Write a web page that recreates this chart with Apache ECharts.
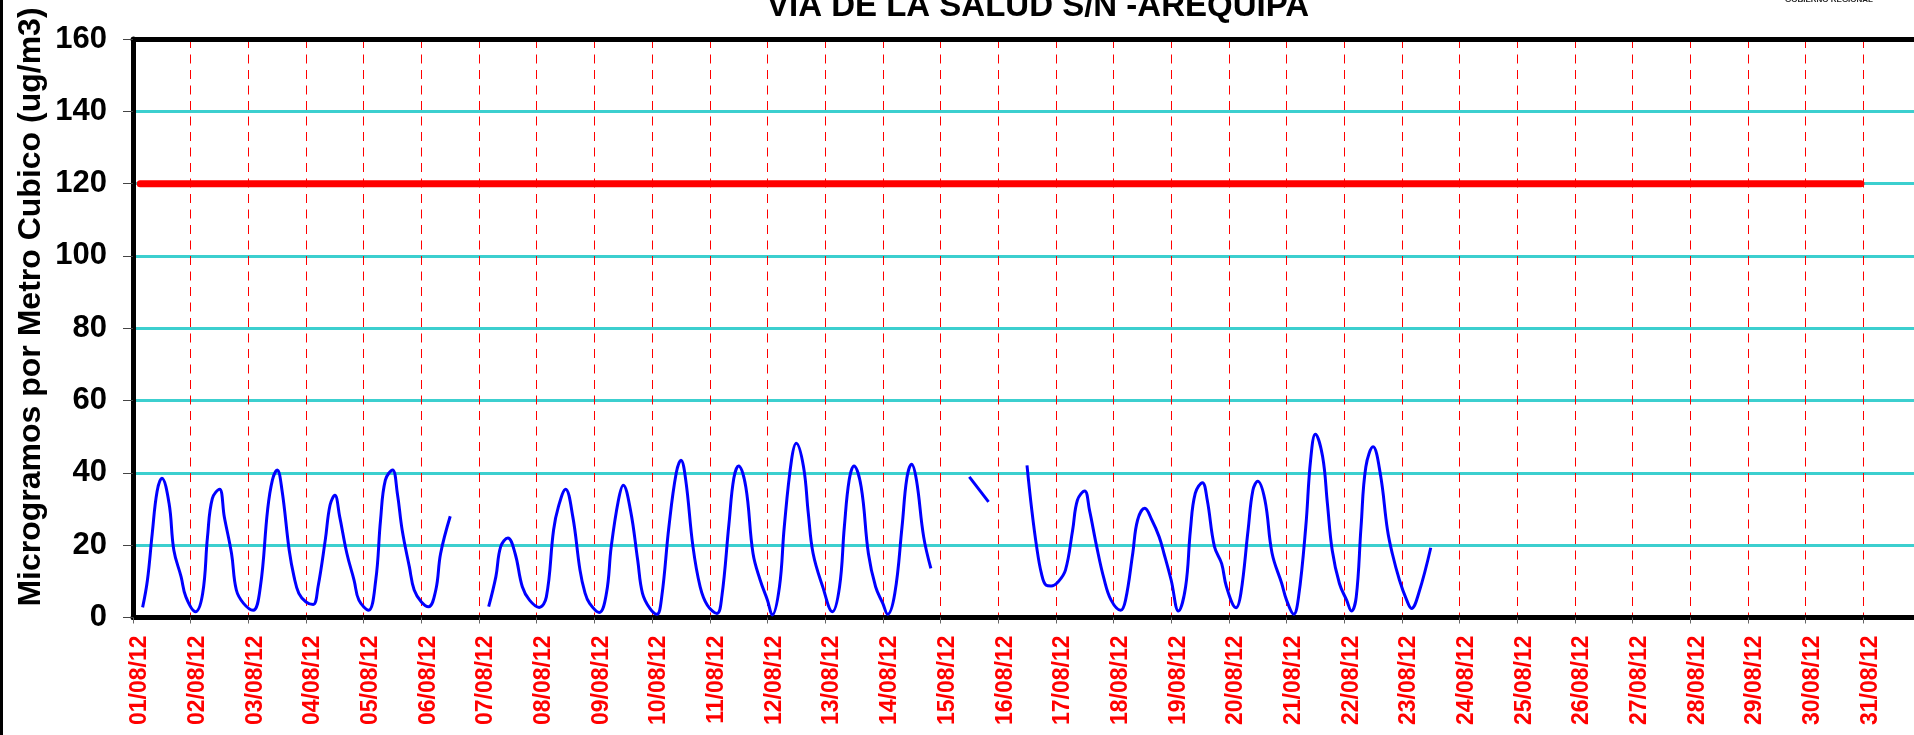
<!DOCTYPE html>
<html>
<head>
    <meta charset="UTF-8">
    <title>PM10 - Via de la Salud S/N - Arequipa</title>
    <style>
        html, body {
            margin: 0;
            padding: 0;
            width: 100%;
            height: 100%;
            overflow: hidden;
            background: #ffffff;
        }
        /* un poco mas ancho que la ventana: el grafico continua fuera del borde derecho */
        #main {
            width: 1930px;
            height: 735px;
        }
    </style>
    <script src="https://cdn.jsdelivr.net/npm/echarts@6/dist/echarts.min.js"></script>
</head>
<body>
    <div id="main"></div>

    <script>
        // etiquetas del eje x (una por dia)
        const dias = [
            '01/08/12', '02/08/12', '03/08/12', '04/08/12', '05/08/12', '06/08/12', '07/08/12', '08/08/12',
            '09/08/12', '10/08/12', '11/08/12', '12/08/12', '13/08/12', '14/08/12', '15/08/12', '16/08/12',
            '17/08/12', '18/08/12', '19/08/12', '20/08/12', '21/08/12', '22/08/12', '23/08/12', '24/08/12',
            '25/08/12', '26/08/12', '27/08/12', '28/08/12', '29/08/12', '30/08/12', '31/08/12'
        ];

        // horas desde 01/08/12 00:00 (null = sin datos)
        const horas = [
            4, 6, 8, 10, 12, 15, 17, 20, 22, 26, 29, 31, 33, 36, 38, 41, 43, 46, 50, 53, 56, 58, 60, 62,
            65, 67, 69, 72, 75, 77, 80, 82, 84, 86, 89, 92, 94, 98, 101, 103, 105, 108, 110, 112, 115, 117,
            120, 123, 126, 128, 132,
            140,
            148, 151, 153, 156, 159, 162, 165, 169, 172, 175, 177, 180, 183, 186, 188, 190, 194, 197, 199,
            202, 204, 207, 210, 212, 215, 218, 220, 223, 226, 228, 230, 233, 236, 239, 243, 245, 248, 250,
            252, 255, 258, 261, 264, 266, 269, 271, 274, 276, 279, 281, 283, 287, 291, 294, 296, 298, 300,
            303, 306, 309, 312, 314, 317, 320, 322, 324, 326, 329, 332,
            340,
            348, 356,
            364,
            372, 374, 376, 378, 380, 382, 385, 388, 391, 393, 396, 398, 401, 404, 407, 411, 413, 416, 418,
            421, 424, 427, 429, 432, 435, 438, 440, 442, 445, 447, 450, 453, 455, 459, 461, 464, 466, 468,
            471, 474, 478, 480, 483, 485, 488, 490, 492, 495, 497, 499, 502, 505, 507, 509, 511, 513, 516,
            519, 522, 524, 527, 530, 532, 535, 540
        ];

        // PM10 en ug/m3
        const valores = [
            2.8, 10.3, 23.2, 34.8, 38.5, 31.6, 18.6, 11.3, 5.7, 1.6, 6.7, 22.3, 32.9, 35.5, 27.8, 17.7, 7.6, 3.9, 2.0, 8.5, 29.7, 38.0, 40.8, 35.2,
            18.6, 11.3, 6.7, 4.3, 3.6, 8.5, 21.4, 31.1, 33.8, 27.9, 17.7, 10.3, 4.8, 2.0, 10.3, 26.9, 38.0, 40.8, 34.3, 24.2, 14.0, 7.6,
            4.3, 3.0, 7.6, 17.7, 28.0,
            null,
            3.0, 11.3, 19.6, 22.0, 17.7, 8.5, 4.8, 2.8, 5.7, 24.2, 30.6, 35.5, 27.9, 13.1, 7.0, 3.9, 1.4, 6.7, 19.6,
            32.5, 36.6, 29.7, 15.9, 6.7, 2.6, 0.9, 5.7, 25.1, 39.8, 43.5, 38.0, 19.6, 8.5, 3.4, 1.1, 5.7, 26.0, 38.5,
            41.9, 36.1, 17.7, 10.3, 4.8, 0.7, 8.5, 25.1, 43.5, 48.2, 41.7, 28.8, 17.7, 8.5, 1.6, 8.5, 25.1, 38.0, 41.9,
            36.1, 17.7, 8.5, 3.9, 0.9, 6.7, 25.1, 38.5, 42.4, 38.0, 22.3, 13.6,
            null,
            38.9, 32.0,
            null,
            42.1, 29.7, 19.6, 12.2, 8.9, 8.7, 9.9, 13.1, 24.2, 32.5, 35.0, 29.7, 19.6, 10.8, 4.8, 2.0, 4.8, 17.7, 26.9,
            30.2, 26.9, 22.3, 17.7, 10.3, 1.8, 8.5, 24.2, 34.3, 37.3, 32.5, 19.6, 14.9, 8.5, 2.7, 6.7, 24.2, 35.2, 37.7,
            32.5, 17.7, 9.4, 4.8, 0.9, 5.7, 25.1, 43.5, 50.7, 44.5, 31.5, 18.6, 9.4, 4.8, 1.8, 5.7, 25.1, 41.7, 47.2,
            39.8, 24.2, 17.7, 10.3, 4.8, 2.5, 6.7, 19.3
        ];

        // limite (ECA) 120 ug/m3
        const limiteHoras = [3, 719];
        const limiteValor = 120;

        const font = "'Liberation Sans', Arial, sans-serif";

        const chart = echarts.init(document.getElementById('main'));

        const serieDatos = horas.map((h, i) => [h, valores[i] === null ? '-' : valores[i]]);
        const serieLimite = limiteHoras.map(h => [h, limiteValor]);

        chart.setOption({
            animation: false,
            backgroundColor: '#ffffff',
            title: {
                text: 'VIA DE LA SALUD S/N -AREQUIPA',
                left: 1033,
                top: -15,
                textAlign: 'center',
                textStyle: { fontFamily: font, fontWeight: 'bold', fontSize: 33, color: '#000' }
            },
            grid: { left: 133, top: 39, width: 1788, height: 578.5 },
            xAxis: [{
                type: 'value',
                min: 0,
                max: 744,
                interval: 24,
                axisLine: { lineStyle: { color: '#000', width: 5 } },
                axisTick: { length: 6, lineStyle: { color: '#666', width: 1 } },
                axisLabel: {
                    rotate: 90,
                    margin: 18,
                    verticalAlign: 'top',
                    lineHeight: 14,
                    color: '#ff0000',
                    fontFamily: font,
                    fontWeight: 'bold',
                    fontSize: 23,
                    formatter: v => dias[v / 24] || ''
                },
                splitLine: { show: true, lineStyle: { color: '#ff0000', width: 1, type: [9, 6.5] } }
            }, {
                type: 'value',
                position: 'top',
                min: 0,
                max: 744,
                axisLine: { lineStyle: { color: '#000', width: 5 } },
                axisTick: { show: false },
                axisLabel: { show: false },
                splitLine: { show: false }
            }],
            yAxis: {
                type: 'value',
                min: 0,
                max: 160,
                interval: 20,
                axisLine: { show: true, lineStyle: { color: '#000', width: 5 } },
                axisTick: { show: true, length: 10, lineStyle: { color: '#444', width: 1 } },
                axisLabel: {
                    margin: 26,
                    color: '#000',
                    fontFamily: font,
                    fontWeight: 'bold',
                    fontSize: 31
                },
                splitLine: { show: true, lineStyle: { color: '#3ccfcf', width: 3 } }
            },
            graphic: [
                {
                    type: 'rect',
                    shape: { x: 0, y: 0, width: 3, height: 735 },
                    style: { fill: '#000' }
                },
                {
                    type: 'text',
                    x: 31,
                    y: 307,
                    rotation: Math.PI / 2,
                    style: {
                        text: 'Microgramos por Metro Cubico (ug/m3)',
                        fontFamily: font,
                        fontWeight: 'bold',
                        fontSize: 32,
                        fill: '#000',
                        align: 'center',
                        verticalAlign: 'middle'
                    }
                },
                {
                    type: 'text',
                    x: 1785,
                    y: -4,
                    style: {
                        text: 'GOBIERNO REGIONAL',
                        fontFamily: font,
                        fontWeight: 'bold',
                        fontSize: 8,
                        fill: '#222'
                    }
                }
            ],
            series: [
                {
                    type: 'line',
                    data: serieLimite,
                    showSymbol: false,
                    lineStyle: { color: '#ff0000', width: 7, cap: 'round' },
                    z: 3
                },
                {
                    type: 'line',
                    data: serieDatos,
                    showSymbol: false,
                    smooth: 0.4,
                    connectNulls: false,
                    lineStyle: { color: '#0000ff', width: 3 },
                    z: 4
                }
            ]
        });

        window.addEventListener('resize', () => chart.resize());
    </script>
</body>
</html>
